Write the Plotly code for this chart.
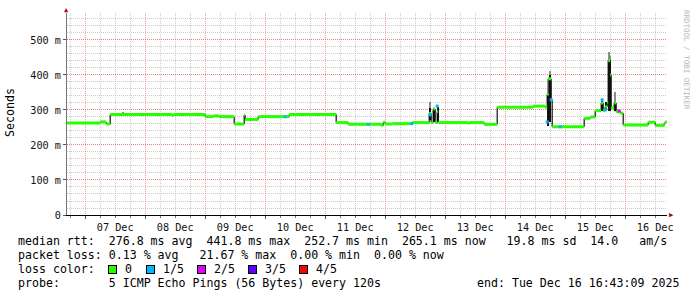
import plotly.graph_objects as go

T_START = "2025-12-06 16:43:09"
T_END = "2025-12-16 16:43:09"

# median rtt (ms): value holds from each time until the next one
median_times = [
    "2025-12-06 16:43", "2025-12-07 06:00", "2025-12-07 08:24", "2025-12-07 10:00",
    "2025-12-08 10:48", "2025-12-08 11:12", "2025-12-09 00:00", "2025-12-09 03:12",
    "2025-12-09 05:36", "2025-12-09 11:36", "2025-12-09 15:36", "2025-12-09 16:00",
    "2025-12-09 21:12", "2025-12-10 09:36", "2025-12-11 04:24", "2025-12-11 09:12",
    "2025-12-11 22:24", "2025-12-11 23:12", "2025-12-12 00:00", "2025-12-12 02:48",
    "2025-12-12 10:48", "2025-12-12 17:36", "2025-12-12 18:24", "2025-12-12 19:12",
    "2025-12-12 20:00", "2025-12-12 20:48", "2025-12-12 21:12", "2025-12-13 09:12",
    "2025-12-13 09:36", "2025-12-13 15:36", "2025-12-13 20:48", "2025-12-14 11:12",
    "2025-12-14 16:00", "2025-12-14 16:48", "2025-12-14 17:12", "2025-12-14 18:24",
    "2025-12-14 18:48", "2025-12-15 07:36", "2025-12-15 10:00", "2025-12-15 12:00",
    "2025-12-15 14:24", "2025-12-15 15:12", "2025-12-15 16:00", "2025-12-15 16:48",
    "2025-12-15 17:12", "2025-12-15 18:00", "2025-12-15 18:24", "2025-12-15 19:36",
    "2025-12-15 20:24", "2025-12-15 22:00", "2025-12-15 23:12", "2025-12-16 09:12",
    "2025-12-16 12:00", "2025-12-16 15:36", "2025-12-16 16:00",
]
median_ms = [
    263, 266, 260, 287, 284, 287, 281, 283, 281, 260, 285, 273, 281, 287,
    264, 259, 256, 265, 260, 261, 264, 290, 264, 303, 264, 295, 264, 262,
    264, 259, 308, 311, 308, 345, 389, 329, 252, 276, 280, 298, 320, 298,
    309, 322, 441, 400, 306, 320, 295, 291, 257, 265, 256, 262, 266,
]

# smoke (spread of the pings) where it stands out from the median
smoke_times = ["2025-12-07 15:05", "2025-12-12 17:48", "2025-12-12 19:24", "2025-12-12 21:00",
               "2025-12-14 17:00", "2025-12-14 17:48", "2025-12-15 14:36", "2025-12-15 16:12",
               "2025-12-15 17:24", "2025-12-15 17:48", "2025-12-15 19:48"]
smoke_lo = [287, 270, 265, 265, 255, 265, 297, 300, 297, 297, 297]
smoke_hi = [287, 305, 306, 309, 343, 400, 329, 324, 443, 443, 324]
smoke_top = [295, 323, 306, 309, 343, 412, 329, 324, 466, 455, 352]

# intervals with packet loss (count of 5 lost)
loss_times = ["2025-12-10 08:00", "2025-12-11 17:12", "2025-12-12 10:36", "2025-12-12 18:00",
              "2025-12-12 20:48", "2025-12-14 16:48", "2025-12-14 18:24", "2025-12-14 22:00",
              "2025-12-15 14:48", "2025-12-15 16:00", "2025-12-15 21:36"]
loss_ms = [281, 259, 261, 286, 311, 266, 329, 252, 329, 300, 297]
loss_count = [1, 1, 1, 1, 1, 1, 1, 1, 1, 1, 2]

loss_labels = ["0", "1/5", "2/5", "3/5", "4/5"]
loss_colors = ["#26ff00", "#00b8ff", "#dd00ff", "#5e00ff", "#ff0000"]

y_tickvals = [0, 100, 200, 300, 400, 500]
y_ticktext = ["0", "100 m", "200 m", "300 m", "400 m", "500 m"]

legend_lines = [
    "median rtt:  276.8 ms avg  441.8 ms max  252.7 ms min  265.1 ms now   19.8 ms sd  14.0   am/s",
    "packet loss: 0.13 % avg   21.67 % max  0.00 % min  0.00 % now",
    "loss color:",
    "probe:       5 ICMP Echo Pings (56 Bytes) every 120s",
]
end_text = "end: Tue Dec 16 16:43:09 2025"

MONO = "DejaVu Sans Mono"
W, H = 697, 297
L, R, T, B = 67, 30, 13, 82
PW, PH = W - L - R, H - T - B


def px(x):
    return (x - L) / PW


def py(y):
    return (H - B - y) / PH


# build horizontal median segments and the dark transitions between them
seg_x, seg_y, con_x, con_y = [], [], [], []
for i, (t, v) in enumerate(zip(median_times, median_ms)):
    t_next = median_times[i + 1] if i + 1 < len(median_times) else T_END
    seg_x += [t, t_next, None]
    seg_y += [v, v, None]
    if i > 0:
        con_x += [t, t, None]
        con_y += [median_ms[i - 1], v, None]

BAR_W = 24 * 60 * 1000  # one pixel column (24 minutes)

fig = go.Figure()
fig.add_trace(go.Bar(x=smoke_times, y=[t - h for t, h in zip(smoke_top, smoke_hi)], base=smoke_hi,
                     width=BAR_W, marker=dict(color="#8c8c8c", line=dict(width=0)), showlegend=False))
fig.add_trace(go.Bar(x=smoke_times, y=[h - l for h, l in zip(smoke_hi, smoke_lo)], base=smoke_lo,
                     width=BAR_W, marker=dict(color="#111111", line=dict(width=0)), showlegend=False))
fig.add_trace(go.Scatter(x=con_x, y=con_y, mode="lines", line=dict(color="#111111", width=1.2),
                         showlegend=False, connectgaps=False))
fig.add_trace(go.Scatter(x=seg_x, y=seg_y, mode="lines", line=dict(color=loss_colors[0], width=3),
                         showlegend=False, connectgaps=False))
fig.add_trace(go.Scatter(x=loss_times, y=loss_ms, mode="markers",
                         marker=dict(symbol="square", size=3, color=[loss_colors[c] for c in loss_count],
                                     line=dict(width=0)), showlegend=False))

grid_major = "rgba(255,70,70,0.55)"
grid_minor = "rgba(170,170,170,0.6)"

fig.update_layout(
    width=W, height=H, autosize=False,
    margin=dict(l=L, r=R, t=T, b=B, pad=0),
    paper_bgcolor="white", plot_bgcolor="white",
    barmode="overlay", bargap=0,
    font=dict(family=MONO, size=10.2, color="#000"),
    xaxis=dict(
        type="date", range=[T_START, T_END],
        tick0="2025-12-07 00:00", dtick=86400000, tickformat="%d %b",
        ticklabelshift=30, ticks="outside", ticklen=3, tickcolor="#555",
        showgrid=True, gridcolor=grid_major, griddash="1px,1px", gridwidth=1,
        minor=dict(dtick=6 * 3600000, tick0="2025-12-07 00:00", showgrid=True,
                   gridcolor=grid_minor, griddash="1px,1px", ticks="outside", ticklen=2, tickcolor="#777"),
        showline=True, linecolor="#000", linewidth=1, zeroline=False,
        tickfont=dict(family=MONO, size=10.2, color="#111"),
    ),
    yaxis=dict(
        range=[0, 577], tickvals=y_tickvals, ticktext=y_ticktext,
        ticks="outside", ticklen=3, tickcolor="#555",
        showgrid=True, gridcolor=grid_major, griddash="1px,1px", gridwidth=1,
        minor=dict(dtick=20, showgrid=True, gridcolor=grid_minor, griddash="1px,1px"),
        showline=True, linecolor="#777", linewidth=1, zeroline=False,
        tickfont=dict(family=MONO, size=10.2, color="#111"),
    ),
)

ann = []
# axis arrows
ann.append(dict(x=px(66.5), y=py(10), xref="paper", yref="paper", text="\u25B2", showarrow=False,
                font=dict(size=7, color="#a01010"), xanchor="center", yanchor="middle"))
ann.append(dict(x=px(671), y=py(215), xref="paper", yref="paper", text="\u25B6", showarrow=False,
                font=dict(size=7, color="#a01010"), xanchor="center", yanchor="middle"))
# y title
ann.append(dict(x=px(10), y=py(113), xref="paper", yref="paper", text="Seconds", textangle=-90,
                showarrow=False, font=dict(family=MONO, size=11.6, color="#000"),
                xanchor="center", yanchor="middle"))
# watermark
ann.append(dict(x=px(687), y=py(60), xref="paper", yref="paper", text="RRDTOOL / TOBI OETIKER",
                textangle=90, showarrow=False, font=dict(family=MONO, size=7.5, color="#b8b8b8"),
                xanchor="center", yanchor="middle"))
# legend text lines
for k, line in enumerate(legend_lines):
    ann.append(dict(x=px(16), y=py(241 + 14 * k), xref="paper", yref="paper",
                    text=line.replace(" ", "\u00a0"), showarrow=False,
                    font=dict(family=MONO, size=11.6, color="#000"), xanchor="left", yanchor="middle"))
ann.append(dict(x=px(681), y=py(283), xref="paper", yref="paper", text=end_text.replace(" ", "\u00a0"),
                showarrow=False, font=dict(family=MONO, size=11.6, color="#000"),
                xanchor="right", yanchor="middle"))
# loss colour swatches
sq_x = [108, 146, 197, 248, 299]
for sx, lab, col in zip(sq_x, loss_labels, loss_colors):
    ann.append(dict(x=px(sx), y=py(269), xref="paper", yref="paper", text="", width=7, height=7,
                    bgcolor=col, bordercolor="#000", borderwidth=1, borderpad=0, showarrow=False,
                    xanchor="left", yanchor="middle", font=dict(size=1)))
    ann.append(dict(x=px(sx + 15), y=py(269), xref="paper", yref="paper", text=lab, showarrow=False,
                    font=dict(family=MONO, size=11.6, color="#000"), xanchor="left", yanchor="middle"))

fig.update_layout(annotations=ann)
fig.write_html("out.html")
